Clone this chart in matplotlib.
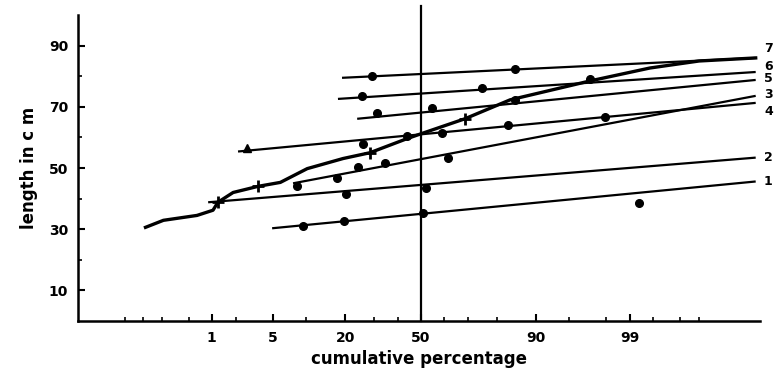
import math
import numpy as np
import matplotlib
matplotlib.use("Agg")
import matplotlib.pyplot as plt

# --- data (percent on normal probability paper, length in cm) ---
curve_pct = [0.11, 0.21, 0.64, 1.04, 1.2, 1.84, 3.5, 5.9, 10.3, 19.3, 28.5, 43.8, 50,
             68.7, 83.9, 97.0, 99.45, 99.9, 99.99]
curve_len = [30.6, 32.9, 34.5, 36.2, 38.8, 42.0, 44.0, 45.3, 49.8, 53.1, 55.0, 59.6, 61.2,
             66.1, 72.3, 78.5, 82.7, 85.0, 86.0]
curve_cross_pct = [1.2, 3.5, 28.5, 68.7]
curve_cross_len = [38.8, 44.0, 55.0, 66.1]

line_names = ["1", "2", "3", "4", "5", "6", "7"]
line_start_pct = [4.9, 0.90, 7.75, 2.1, 23.9, 17.8, 19.0]
line_start_len = [30.3, 38.8, 45.0, 55.4, 66.1, 72.6, 79.5]
line_end_pct = [99.99, 99.99, 99.99, 99.99, 99.99, 99.99, 99.99]
line_end_len = [45.6, 53.4, 73.6, 71.3, 78.8, 81.4, 86.0]

dots_pct = [9.5, 19.6, 51.0, 99.23,          # 1
            20.2, 52.2,                      # 2
            8.4, 17.5, 24.2, 34.5, 61.8,     # 3
            26.0, 43.8, 59.2, 83.3, 97.95,   # 4
            31.2, 54.9, 85.2,                # 5
            25.6, 75.1, 97.0,                # 6
            29.3, 85.2]                      # 7
dots_len = [30.9, 32.6, 35.2, 38.4,
            41.4, 43.6,
            44.0, 46.6, 50.2, 51.5, 53.4,
            58.0, 60.6, 61.6, 64.2, 66.8,
            68.1, 69.7, 72.3,
            73.6, 76.2, 79.2,
            80.1, 82.4]
tri_pct = [2.66]
tri_len = [56.7]

xtick_major = [1, 5, 20, 50, 90, 99]
xtick_minor = [0.05, 0.1, 0.2, 0.5, 2, 10, 30, 40, 60, 70, 80, 95, 98, 99.5, 99.8, 99.9]
ytick_major = [10, 30, 50, 70, 90]
ytick_minor = [20, 40, 60, 80]

# label offsets (points) so the stacked numbers at the right do not overlap
label_dy = [0, 0, 1, -6, 1, 4, 7]

# --- normal probability scale ---
zgrid = np.linspace(-6, 6, 6001)
cdfgrid = 100 * 0.5 * (1 + np.vectorize(math.erf)(zgrid / math.sqrt(2)))


def forward(p):
    p = np.asarray(p, dtype=float)
    return np.interp(p, cdfgrid, zgrid)


def inverse(z):
    z = np.clip(np.asarray(z, dtype=float), -6, 6)
    return 100 * 0.5 * (1 + np.vectorize(math.erf)(z / math.sqrt(2)))


plt.rcParams["font.family"] = ["DejaVu Sans"]
plt.rcParams["font.weight"] = "bold"

fig = plt.figure(figsize=(7.77, 3.78), dpi=100)
ax = fig.add_axes([0.1004, 0.151, 0.8776, 0.809])
ax.set_xscale("function", functions=(forward, inverse))
ax.set_xlim(0.0069, 99.9917)
ax.set_ylim(0, 100)

for i in range(len(line_names)):
    ax.plot([line_start_pct[i], line_end_pct[i]], [line_start_len[i], line_end_len[i]],
            color="black", lw=1.6, solid_capstyle="butt")
    ax.annotate(line_names[i], xy=(line_end_pct[i], line_end_len[i]),
                xytext=(6, label_dy[i]), textcoords="offset points",
                ha="left", va="center", fontsize=9, fontweight="bold",
                annotation_clip=False)

ax.plot(curve_pct, curve_len, color="black", lw=2.4)
ax.plot(curve_cross_pct, curve_cross_len, ls="none", marker="+", ms=8, mew=2, color="black")
ax.plot(dots_pct, dots_len, ls="none", marker="o", ms=5.5, color="black")
ax.plot(tri_pct, tri_len, ls="none", marker="^", ms=6, color="black")

ax.plot([50, 50], [0, 103], color="black", lw=1.6, clip_on=False)

ax.spines["top"].set_visible(False)
ax.spines["right"].set_visible(False)
ax.spines["left"].set_linewidth(1.8)
ax.spines["bottom"].set_linewidth(1.8)

ax.set_xticks(xtick_major)
ax.set_xticklabels([str(v) for v in xtick_major])
ax.set_xticks(xtick_minor, minor=True)
ax.set_yticks(ytick_major)
ax.set_yticks(ytick_minor, minor=True)
ax.tick_params(axis="both", which="major", direction="in", length=5, width=1.5,
               labelsize=10, pad=7)
ax.tick_params(axis="both", which="minor", direction="in", length=3, width=1.2)
for lab in ax.get_xticklabels() + ax.get_yticklabels():
    lab.set_fontweight("bold")

ax.set_xlabel("cumulative percentage", fontsize=12, fontweight="bold", labelpad=4)
ax.set_ylabel("length in c m", fontsize=12, fontweight="bold", labelpad=8)

fig.savefig("out.png", dpi=100)
